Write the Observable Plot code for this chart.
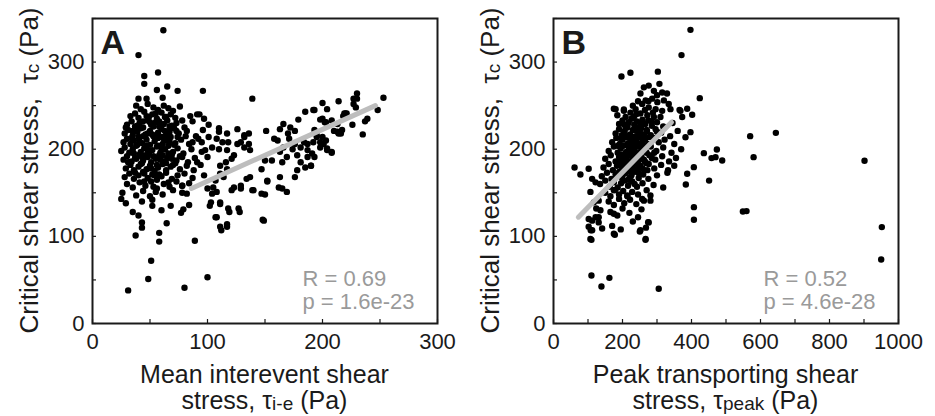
<!DOCTYPE html>
<html><head><meta charset="utf-8">
<script src="https://cdn.jsdelivr.net/npm/d3@7"></script>
<script src="https://cdn.jsdelivr.net/npm/@observablehq/plot@0.6"></script>
<style>
body{margin:0;background:#fff;}
#wrap{display:flex;width:935px;height:416px;overflow:hidden;}
svg{display:block;}
</style></head><body><div id="wrap"></div>
<script>
const FONT = "'Liberation Sans', Arial, Helvetica, sans-serif";

// ---- axes values ----
const yDomain = [0, 350];
const yTicks = [0, 50, 100, 150, 200, 250, 300, 350];
const yTickLabels = [0, 100, 200, 300];
const aXDomain = [0, 300];
const aXTicks = [0, 50, 100, 150, 200, 250, 300];
const aXTickLabels = [0, 100, 200, 300];
const bXDomain = [0, 1000];
const bXTicks = [0, 100, 200, 300, 400, 500, 600, 700, 800, 900, 1000];
const bXTickLabels = [0, 200, 400, 600, 800, 1000];

// ---- panel A: mean interevent shear stress vs critical shear stress ----
const aOutliers = [[61.6,336.5],[40,308],[31,38],[48.5,51],[51,72],[80,41],[100,53],[89,95],[58,94],[58,104],[37.5,101],[43,110],[43,116],[64.5,115],[139,258],[96,267],[74,267],[57,288],[45,284],[45,275],[65,272],[56,268],[40,258],[47,258],[61,259],[91,240],[93,240],
[149,118],[112,107],[117,111],[108,122],[119,128],[128,128],[102,135],[111,137],[140,153],[150,148],[169,151],[152,163],
[25,143],[29,138],[35,128],[40,124],[43,140],[52,142],[52,135],[60,130],[68,135],[77,127],[79,131],[84,136],[78,150],[78,158]];
const aCluster = [[38,250],[42,246],[48,252],[53,248],[57,245],[62,250],[66,247],[70,244],[76,249],
[33,238],[37,241],[40,236],[45,243],[49,237],[52,240],[56,235],[60,242],[64,237],[68,240],[72,236],[78,233],[85,238],[97,235],
[30,228],[34,232],[37,226],[41,230],[44,225],[48,233],[51,228],[55,231],[58,226],[62,229],[65,233],[69,227],[73,230],[80,225],[87,232],[101,228],[110,224],
[28,218],[31,222],[35,216],[39,220],[42,224],[46,217],[50,221],[53,215],[57,219],[60,223],[64,216],[67,220],[71,224],[75,218],[82,221],[90,215],[96,222],
[27,208],[30,212],[33,206],[36,210],[40,214],[43,207],[47,211],[50,205],[54,209],[57,213],[61,206],[64,210],[68,214],[72,207],[77,211],[84,206],[92,212],
[25,198],[28,202],[32,196],[35,200],[38,204],[42,197],[45,201],[49,195],[52,199],[56,203],[59,196],[63,200],[66,204],[70,197],[74,201],[79,195],[86,200],[95,197],
[27,188],[30,192],[34,186],[37,190],[41,194],[44,187],[48,191],[51,185],[55,189],[58,193],[62,186],[65,190],[69,194],[73,187],[78,191],[83,185],[89,190],
[29,178],[33,182],[36,176],[40,180],[43,184],[47,177],[50,181],[54,175],[57,179],[61,183],[64,176],[68,180],[72,184],[76,177],[82,181],[88,176],[94,182],
[28,168],[32,172],[36,166],[40,170],[44,174],[48,167],[52,171],[56,165],[60,169],[64,173],[69,166],[74,170],[80,172],[87,167],[97,170],
[30,160],[35,156],[41,162],[46,158],[51,163],[56,155],[62,160],[67,157],[73,163],[78,158],[84,161],
[26,150],[38,147],[44,152],[50,146],[55,151],[61,148],[70,153],[82,149],
[39,205],[46,193],[53,226],[59,188],[44,215],[51,178],[63,221],[48,199],[55,213],[42,183],[58,232],[66,195],[35,221],[71,205],[47,238],[54,170],[61,193],[38,189],[67,226],[45,172],[57,204],[50,231],[64,184],[41,209],[69,189],[53,192],[60,214],[36,195],[73,221],[48,218],
[34,213],[39,227],[43,191],[47,204],[52,217],[56,182],[60,201],[63,237],[67,209],[70,182],[74,214],[58,171],[45,163],[37,173],[53,157],[66,162],[31,185],[29,225],[76,192],[81,215],[87,208],[91,185],[55,241],[44,232],[62,212]];
const aBranch = [[200,253],[214,255],[192,245],[204,246],[185,243],[220,241],[218,238],
[179,234],[198,234],[202,231],[213,229],[166,229],[172,225],[176,221],[170,218],[151,221],[163,223],
[216,218],[210,221],[195,214],[203,210],[201,206],[192,208],[187,206],[208,197],[204,199],[198,202],
[158,212],[161,210],[171,212],[176,206],[184,208],[166,202],[174,200],[181,202],[187,199],[163,197],[169,191],[178,193],[187,191],[165,185],[181,185],[185,179],[190,181],[178,176],[176,168],
[150,187],[156,187],[147,177],[163,168],[162,156],[165,155],[152,164],[137,168],[134,166],[139,153],[129,155],[123,156],[121,153],[129,158],[147,149],
[137,199],[132,202],[136,206],[129,208],[132,214],[118,208],[123,193],[121,189],[116,185],[111,181],[117,177],[114,168],[111,172],[107,164],[105,156],[108,151],[100,155],[104,149],[111,139],[103,139],[118,132],[127,132],[107,122],[117,114],[111,111],[148,119],
[132,216],[136,218],[126,206],[108,212],[113,208],[101,214],[104,202],[95,208],[98,199],[100,191],[110,200],[117,199],[110,220],[117,218],[126,223],
[230,264],[227,258],[230,258],[227,252],[229,248],[253,259],[248,245],[193,245],[219,241],[221,241],[200,235],[203,231],[208,233],[226,228],[239,235],[237,232],[217,222],[214,218],[213,220],[235,217],[193,222],[195,216],[200,214],[198,208],[204,201],[208,196],[191,195],[193,191],[190,181]];
const aFit = [[86,155],[246,250]];
const aStats = ["R = 0.69", "p = 1.6e-23"];

// ---- panel B: peak transporting shear stress vs critical shear stress ----
const bOutliers = [[397,337],[371,308],[197,283.5],[223,287.7],[302.5,289],[307,275],[424,258.6],[570,215],[644.5,218.8],[580,190.9],[901.5,186.7],[435.8,195.5],[458,189.8],[469.6,190.9],[473.5,199.7],[489,187],[451,164],[407,133.5],[407,119],[549,128.5],[559.5,129],[951.7,110.6],[949.8,73.4],[305,39.8],[110,55],[162,52.4],[139,42.5],[274.4,116.3],[250.3,105.6],[266.7,96],[177.8,101.8],[110,96],[383.6,159.5],[387.5,171.8],[406.8,179.4],[397,219.6],[382.6,213.8],[387.5,246.4],[365.3,245.2],[402,239.5],[175,246.4],[204,245.6],
[61,179],[78,171],[102,177.5],[112,166],[122,162],[107,151],[117,139],[131,141],[124,132],[102,120],[112,118],[131,122],[108,107]];
const bCluster = [[262,271],[276,273],[291,267],[315,265],[329,264],[252,264],[267,256],[286,258],[301,254],[320,256],[334,252],[339,246],[315,244],[296,246],[276,248],[257,252],[238,246],[223,242],[204,244],[180,246],[185,239],[209,237],[233,237],[252,241],[272,239],[291,237],[310,237],[368,244],[373,237],
[190,229],[200,233],[210,226],[218,231],[226,235],[234,228],[242,232],[250,226],[258,234],[266,229],[275,233],[285,227],[300,231],[318,226],[345,230],
[180,218],[190,223],[198,216],[206,221],[214,225],[222,217],[230,222],[238,215],[246,220],[254,224],[262,217],[271,221],[282,216],[296,223],[312,219],[338,215],[360,221],
[170,208],[182,213],[192,206],[200,211],[208,214],[216,207],[224,212],[232,205],[240,210],[248,214],[256,207],[265,211],[275,206],[290,213],[305,208],[322,211],[350,206],
[160,198],[175,203],[186,196],[195,201],[203,204],[211,197],[219,202],[227,195],[235,200],[243,204],[251,197],[260,201],[270,196],[282,203],[298,198],[318,202],[342,196],[370,200],
[150,189],[166,193],[180,186],[190,191],[198,194],[206,187],[214,192],[222,185],[230,190],[238,194],[246,187],[255,191],[265,186],[278,193],[295,188],[315,192],[335,186],[355,190],
[145,179],[160,183],[172,176],[184,181],[193,184],[201,177],[209,182],[217,175],[225,180],[233,184],[242,177],[252,181],[263,176],[276,183],[292,178],[312,182],[332,176],[350,181],
[140,169],[155,173],[168,166],[180,171],[190,174],[199,167],[208,172],[217,165],[226,170],[236,174],[247,167],[260,171],[275,166],[300,170],[330,173],
[135,160],[150,164],[163,157],[175,162],[186,156],[196,161],[206,164],[216,158],[228,163],[242,157],[258,161],[290,159],[318,156],
[150,150],[165,146],[178,153],[190,148],[202,152],[214,146],[228,151],[245,148],[270,153],
[160,140],[175,136],[190,143],[205,138],[222,142],[240,137],[262,141],
[165,128],[185,124],[200,132],[220,127],[245,122],[255,131],
[170,112],[195,108],[230,117],[268,110],
[281,147],[281,141],[257,143],[214,147],[175,153],[136,130],[122,122],[131,116],[175,126],[141,109],[102,111],[112,107],[175,103],[252,107],[267,97],[276,116],[107,97],
[215,228],[228,214],[236,222],[244,207],[252,218],[260,230],[225,200],[238,193],[250,203],[262,188],[219,186],[231,178],[246,182],[258,212],[270,222],[212,205],[205,220],[240,240],[265,245],[280,205],[285,190],[272,176],[222,168],[235,160],[248,172],[198,180],[188,170],[210,196],[196,212],[230,250],
[205,228],[213,214],[221,200],[229,207],[237,185],[245,195],[253,228],[261,205],[269,184],[277,214],[284,232],[292,196],[300,220],[218,193],[226,176],[234,213],[242,223],[250,189],[258,178],[266,199],[210,185],[203,190],[194,186],[186,204],[288,242],[300,262],[245,255],[275,255]];
const bFit = [[72,122],[342,231]];
const bStats = ["R = 0.52", "p = 4.6e-28"];

// ---- titles (text, isSmall) ----
const yTitleParts = [["Critical shear stress,  ", false], ["τ", false], ["c", true], [" (Pa)", false]];
const aXTitleLines = [[["Mean interevent shear", false]], [["stress, ", false], ["τ", false], ["i-e", true], [" (Pa)", false]]];
const bXTitleLines = [[["Peak transporting shear", false]], [["stress, ", false], ["τ", false], ["peak", true], [" (Pa)", false]]];

function richText(sel, parts, big, small) {
  let shifted = false;
  parts.forEach(([t, sm]) => {
    const ts = sel.append("tspan").attr("font-size", sm ? small : big).text(t);
    if (sm && !shifted) { ts.attr("dy", 1); shifted = true; }
    else if (!sm && shifted) { ts.attr("dy", -1); shifted = false; }
  });
}

function panel(cfg) {
  const height = 416, mt = 18, mb = 93;
  const pw = cfg.width - cfg.ml - cfg.mr, ph = height - mt - mb;
  const svg = Plot.plot({
    width: cfg.width, height, marginLeft: cfg.ml, marginRight: cfg.mr, marginTop: mt, marginBottom: mb,
    style: {fontFamily: FONT, fontSize: "22px", color: "#1a1a1a", background: "#fff", overflow: "visible"},
    x: {domain: cfg.xDomain},
    y: {domain: yDomain},
    marks: [
      Plot.dot(cfg.points, {x: d => d[0], y: d => d[1], r: 3.2, fill: "#000", stroke: null}),
      Plot.line(cfg.fit, {x: d => d[0], y: d => d[1], stroke: "#bdbdbd", strokeWidth: 5}),
      Plot.tickX(cfg.xTicks, {x: d => d, insetTop: ph - 4, stroke: "#1a1a1a", strokeWidth: 1.2}),
      Plot.tickY(yTicks, {y: d => d, insetRight: pw - 4, stroke: "#1a1a1a", strokeWidth: 1.2}),
      Plot.axisX(cfg.xLabels, {tickSize: 0, tickPadding: 10, fontSize: 22, label: null, tickFormat: d => String(d)}),
      Plot.axisY(yTickLabels, {tickSize: 0, tickPadding: 8, fontSize: 22, label: null, tickFormat: d => String(d)}),
      Plot.frame({stroke: "#1a1a1a", strokeWidth: 2}),
      Plot.text([cfg.letter], {frameAnchor: "top-left", text: d => d, dx: 8, dy: 35, lineAnchor: "bottom", textAnchor: "start", fontSize: 34, fontWeight: "bold", fill: "#1a1a1a"}),
      Plot.text([cfg.stats[0]], {frameAnchor: "bottom-right", text: d => d, dx: -135, dy: -38, lineAnchor: "bottom", textAnchor: "start", fontSize: 22, fill: "#9a9a9a"}),
      Plot.text([cfg.stats[1]], {frameAnchor: "bottom-right", text: d => d, dx: -135, dy: -15, lineAnchor: "bottom", textAnchor: "start", fontSize: 22, fill: "#9a9a9a"})
    ]
  });
  const s = d3.select(svg);
  // y title
  const cy = mt + ph / 2;
  const yt = s.append("text").attr("transform", `translate(${cfg.ml - 54},${cy}) rotate(-90)`)
    .attr("text-anchor", "middle").attr("fill", "#1a1a1a").attr("font-family", FONT);
  richText(yt, yTitleParts, 26, 19);
  // x title
  const cx = cfg.ml + pw / 2;
  cfg.xTitle.forEach((line, i) => {
    const t = s.append("text").attr("x", cx).attr("y", 383 + i * 26)
      .attr("text-anchor", "middle").attr("fill", "#1a1a1a").attr("font-family", FONT);
    richText(t, line, 25, 19);
  });
  return svg;
}

const wrap = document.getElementById("wrap");
wrap.appendChild(panel({width: 467, ml: 92, mr: 30, xDomain: aXDomain, xTicks: aXTicks, xLabels: aXTickLabels,
  points: aOutliers.concat(aCluster, aBranch), fit: aFit, stats: aStats, letter: "A", xTitle: aXTitleLines}));
wrap.appendChild(panel({width: 468, ml: 86, mr: 37, xDomain: bXDomain, xTicks: bXTicks, xLabels: bXTickLabels,
  points: bOutliers.concat(bCluster), fit: bFit, stats: bStats, letter: "B", xTitle: bXTitleLines}));
</script></body></html>
